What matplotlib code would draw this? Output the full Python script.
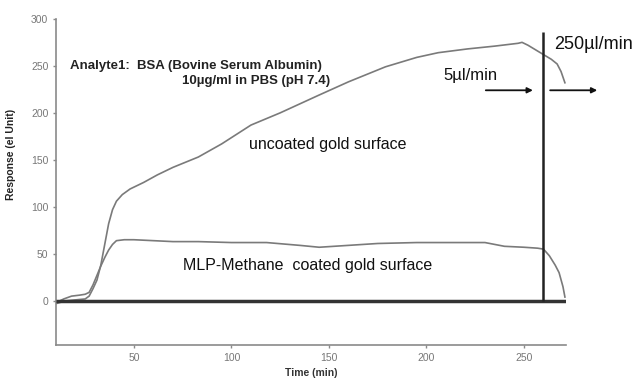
import matplotlib
matplotlib.use('Agg')
import matplotlib.pyplot as plt

plt.rcParams['font.family'] = ['Liberation Sans', 'DejaVu Sans']

# Readings (time in min, response in el units)
t_uncoated = [10, 15, 20, 25, 27, 29, 31, 33, 35, 37, 39, 41, 44, 48, 55, 62, 70, 83, 95,
              110, 125, 145, 160, 179, 195, 206, 221, 235, 247, 249, 252, 256, 260, 264,
              267, 269, 271]
r_uncoated = [-3, 0, 1, 2, 5, 13, 22, 38, 60, 82, 97, 106, 113, 119, 126, 134, 142, 153, 167,
              187, 200, 219, 233, 249, 259, 264, 268, 271, 274, 275, 272, 267, 262, 257,
              252, 244, 232]

t_coated = [10, 14, 18, 22, 25, 27, 29, 31, 33, 35, 37, 39, 41, 45, 50, 60, 70, 83, 100,
            118, 135, 145, 160, 175, 195, 215, 230, 240, 250, 257, 260, 263, 266, 268,
            270, 271]
r_coated = [-2, 2, 5, 6, 7, 9, 17, 27, 37, 46, 54, 60, 64, 65, 65, 64, 63, 63, 62,
            62, 59, 57, 59, 61, 62, 62, 62, 58, 57, 56, 55, 48, 38, 30, 15, 4]

x_ticks = [50, 100, 150, 200, 250]
y_ticks = [0, 50, 100, 150, 200, 250, 300]
flow_switch = 260

fig = plt.figure(figsize=(6.39, 3.81), dpi=100)
ax = fig.add_axes([0.0876, 0.0945, 0.798, 0.856])

ax.plot(t_uncoated, r_uncoated, color='#7a7a7a', lw=1.2)
ax.plot(t_coated, r_coated, color='#7a7a7a', lw=1.2)
ax.hlines(0, 10, 272, color='#333333', lw=2.5, zorder=3)
ax.vlines(flow_switch, 0, 286, color='#222222', lw=1.8, zorder=3)

ax.set_xlim(10, 271.5)
ax.set_ylim(-47, 300)
ax.set_xticks(x_ticks)
ax.set_yticks(y_ticks)
for s in ['top', 'right']:
    ax.spines[s].set_visible(False)
for s in ['left', 'bottom']:
    ax.spines[s].set_color('#8a8a8a')
    ax.spines[s].set_linewidth(1.2)
ax.tick_params(colors='#8a8a8a', labelcolor='#777777', labelsize=7.5, length=2, width=1)

ax.set_xlabel('Time (min)', fontsize=7.5, fontweight='bold', color='#333333', labelpad=4)
ax.set_ylabel('Response (el Unit)', fontsize=7.5, fontweight='bold', color='#222222')
ax.yaxis.set_label_coords(-0.078, 0.583)

ax.text(0.027, 0.856, 'Analyte1:  BSA (Bovine Serum Albumin)', transform=ax.transAxes,
        fontsize=9.5, fontweight='bold', color='#222222', va='center')
ax.text(0.537, 0.808, '10µg/ml in PBS (pH 7.4)', transform=ax.transAxes,
        fontsize=9.5, fontweight='bold', color='#222222', va='center', ha='right')
ax.text(109, 166, 'uncoated gold surface', fontsize=11.5, color='#111111', va='center')
ax.text(75, 38, 'MLP-Methane  coated gold surface', fontsize=11.5, color='#111111', va='center')
ax.text(208.5, 240, '5µl/min', fontsize=12, color='#111111', va='center')
ax.text(265.5, 273, '250µl/min', fontsize=13, color='#111111', va='center')

ax.annotate('', xy=(256, 224), xytext=(229, 224),
            arrowprops=dict(arrowstyle='-|>', color='#111111', lw=1.3, mutation_scale=8))
ax.annotate('', xy=(289, 224), xytext=(262, 224), annotation_clip=False,
            arrowprops=dict(arrowstyle='-|>', color='#111111', lw=1.3, mutation_scale=8))

fig.savefig('out.png', dpi=100)
